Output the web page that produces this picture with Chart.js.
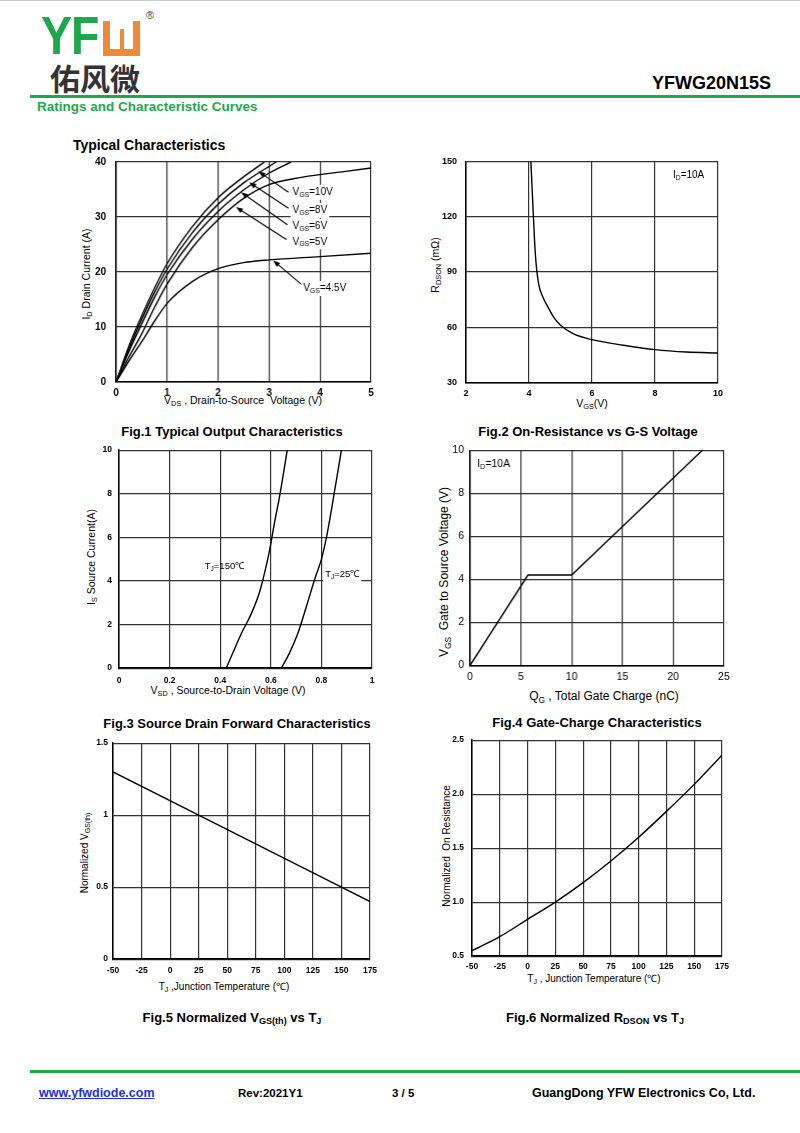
<!DOCTYPE html>
<html>
<head>
<meta charset="utf-8">
<script src="https://cdn.jsdelivr.net/npm/chart.js@4.4.0/dist/chart.umd.min.js"></script>
<style>
  body { margin: 0; background: #fff; font-family: "Liberation Sans", Arial, sans-serif; }
  #page { position: relative; width: 800px; height: 1133px; overflow: hidden; background: #fff; }
  .abs { position: absolute; white-space: nowrap; color: #000; }
  .cap { font-weight: bold; font-size: 13px; transform: translate(-50%, -50%); }
  .xt { font-size: 10.5px; transform: translate(-50%, -50%); }
  .yt { font-size: 10.5px; transform: translate(-50%, -50%) rotate(-90deg); }
  sub { font-size: 70%; vertical-align: -0.3em; line-height: 0; }
  .green { color: #1ea84b; }
</style>
</head>
<body>
<div id="page">
  <div class="abs" style="left:0;top:0;width:800px;height:1px;background:#ccc"></div>

  <!-- logo -->
  <div class="abs green" style="left:41px;top:4px;font-size:54px;font-weight:bold;transform:scaleX(0.86);transform-origin:left top;letter-spacing:-1px">YF</div>
  <div class="abs" style="left:103px;top:21px;width:37px;height:35px;background:#ef8a3a">
    <div class="abs" style="left:7px;top:0;width:23px;height:28px;background:#fff"></div>
    <div class="abs" style="left:16.5px;top:8px;width:4px;height:20px;background:#ef8a3a"></div>
  </div>
  <div class="abs" style="left:146px;top:9px;font-size:11px;color:#444">®</div>
  <div class="abs" style="left:50px;top:55px;font-size:30px;font-weight:bold;color:#333;font-family:'Noto Sans CJK SC',sans-serif">佑风微</div>

  <div class="abs" style="right:29px;top:73px;font-size:18px;font-weight:bold">YFWG20N15S</div>
  <div class="abs" style="left:30px;top:95px;width:770px;height:3px;background:#1ea84b"></div>
  <div class="abs green" style="left:37px;top:99px;font-size:13.5px;font-weight:bold">Ratings and Characteristic Curves</div>
  <div class="abs" style="left:73px;top:137px;font-size:14px;font-weight:bold">Typical Characteristics</div>

  <!-- axis titles -->
  <div class="abs yt" style="left:86px;top:274px">I<sub>D</sub> Drain Current (A)</div>
  <div class="abs xt" style="left:243px;top:400px">V<sub>DS</sub> , Drain-to-Source&nbsp; Voltage (V)</div>
  <div class="abs yt" style="left:435px;top:265px">R<sub>DSON</sub> (mΩ)</div>
  <div class="abs xt" style="left:592px;top:403px">V<sub>GS</sub>(V)</div>
  <div class="abs yt" style="left:91px;top:557px">I<sub>S</sub> Source Current(A)</div>
  <div class="abs xt" style="left:228px;top:690px">V<sub>SD</sub> , Source-to-Drain Voltage (V)</div>
  <div class="abs yt" style="left:444px;top:572px;font-size:12px">V<sub>GS</sub>&nbsp; Gate to Source Voltage (V)</div>
  <div class="abs xt" style="left:604px;top:696px;font-size:12px">Q<sub>G</sub> , Total Gate Charge (nC)</div>
  <div class="abs yt" style="left:84px;top:853px;font-size:10px">Normalized V<sub>GS(th)</sub></div>
  <div class="abs xt" style="left:224px;top:986px;font-size:10px">T<sub>J</sub> ,Junction Temperature (℃)</div>
  <div class="abs yt" style="left:446px;top:846px;font-size:10px">Normalized&nbsp; On Resistance</div>
  <div class="abs xt" style="left:594px;top:978px;font-size:10px">T<sub>J</sub> , Junction Temperature (℃)</div>

  <!-- captions -->
  <div class="abs cap" style="left:232px;top:431px">Fig.1 Typical Output Characteristics</div>
  <div class="abs cap" style="left:588px;top:431px">Fig.2 On-Resistance vs G-S Voltage</div>
  <div class="abs cap" style="left:237px;top:723px">Fig.3 Source Drain Forward Characteristics</div>
  <div class="abs cap" style="left:597px;top:722px">Fig.4 Gate-Charge Characteristics</div>
  <div class="abs cap" style="left:232px;top:1017px">Fig.5 Normalized V<sub>GS(th)</sub> vs T<sub>J</sub></div>
  <div class="abs cap" style="left:595px;top:1017px">Fig.6 Normalized R<sub>DSON</sub> vs T<sub>J</sub></div>

  <!-- footer -->
  <div class="abs" style="left:30px;top:1070px;width:770px;height:3px;background:#1ea84b"></div>
  <div class="abs" style="left:39px;top:1086px;font-size:12.5px;font-weight:bold;color:#1f2fe0;text-decoration:underline">www.yfwdiode.com</div>
  <div class="abs" style="left:238px;top:1087px;font-size:11.5px;font-weight:bold">Rev:2021Y1</div>
  <div class="abs" style="left:392px;top:1087px;font-size:11.5px;font-weight:bold">3 / 5</div>
  <div class="abs" style="left:532px;top:1086px;font-size:12.5px;font-weight:bold">GuangDong YFW Electronics Co, Ltd.</div>
</div>

<script>
const FONT = '"Liberation Sans", Arial, sans-serif';

// Fig.1 output characteristics
const vds10 = [0, 0.25, 0.5, 0.75, 1, 1.5, 2, 2.5, 2.91];
const id10  = [0, 6.5, 12, 17, 21.5, 28.3, 33.5, 37.3, 40];
const vds8  = [0, 0.25, 0.5, 0.75, 1, 1.5, 2, 2.5, 3.14];
const id8   = [0, 6, 11.3, 16.2, 20.5, 27.2, 32.3, 36.2, 40];
const vds6  = [0, 0.25, 0.5, 0.75, 1, 1.5, 2, 2.5, 3, 3.43];
const id6   = [0, 5.5, 10.5, 15.3, 19.5, 26, 31, 34.9, 38, 40];
const vds5  = [0, 0.25, 0.5, 0.75, 1, 1.5, 2, 2.5, 3, 3.5, 4, 4.5, 5];
const id5   = [0, 4.5, 8.7, 13.5, 17.8, 24.5, 29.5, 33.4, 35.9, 37, 37.7, 38.3, 38.9];
const vds45 = [0, 0.25, 0.5, 0.75, 1, 1.5, 2, 2.5, 3, 4, 5];
const id45  = [0, 3.8, 7.3, 11, 14.3, 18.3, 20.6, 21.7, 22.2, 22.8, 23.4];

// Fig.2 on-resistance vs VGS
const vgsR  = [4.06, 4.1, 4.14, 4.2, 4.3, 4.45, 4.6, 4.8, 5, 5.4, 6, 7, 8, 9, 10];
const rdson = [150, 135, 120, 100, 84, 76, 71, 65, 61, 56.5, 53.2, 50.2, 47.8, 46.5, 46];

// Fig.3 source-drain forward
const vsd150 = [0.424, 0.45, 0.484, 0.523, 0.556, 0.576, 0.595, 0.615, 0.635, 0.665];
const is150  = [0, 0.7, 1.6, 2.5, 3.5, 4.4, 5.4, 6.7, 7.9, 10];
const vsd25  = [0.642, 0.674, 0.707, 0.74, 0.774, 0.8, 0.82, 0.846, 0.879];
const is25   = [0, 0.7, 1.6, 2.8, 4.1, 5.0, 6.0, 7.7, 10];

// Fig.4 gate charge
const qg  = [0, 5.7, 10, 22.87];
const vgs = [0, 4.2, 4.2, 10];

// Fig.5 normalized VGS(th)
const tj5   = [-50, 25, 150, 175];
const vth   = [1.3, 1.0, 0.5, 0.4];

// Fig.6 normalized RDSON
const tj6   = [-50, -25, 0, 25, 50, 75, 100, 125, 150, 175];
const rnorm = [0.55, 0.68, 0.84, 1.0, 1.18, 1.38, 1.6, 1.84, 2.09, 2.36];

function pts(xs, ys) { return xs.map((x, i) => ({ x: x, y: ys[i] })); }

function drawRich(ctx, parts, x, y, size, bg) {
  let w = 0;
  parts.forEach(([t, sub]) => {
    ctx.font = (sub ? size * 0.68 : size) + 'px ' + FONT;
    w += ctx.measureText(t).width;
  });
  if (bg) {
    ctx.fillStyle = '#fff';
    ctx.fillRect(x - 2, y - size * 0.75, w + 4, size * 1.5);
  }
  ctx.fillStyle = '#000';
  ctx.textBaseline = 'middle';
  ctx.textAlign = 'left';
  let cx = x;
  parts.forEach(([t, sub]) => {
    ctx.font = (sub ? size * 0.68 : size) + 'px ' + FONT;
    ctx.fillText(t, cx, sub ? y + size * 0.28 : y);
    cx += ctx.measureText(t).width;
  });
}

function arrow(ctx, x1, y1, x2, y2) {
  const a = Math.atan2(y2 - y1, x2 - x1), L = 7, W = 2.6;
  ctx.strokeStyle = '#000';
  ctx.fillStyle = '#000';
  ctx.lineWidth = 1.1;
  ctx.beginPath();
  ctx.moveTo(x1, y1);
  ctx.lineTo(x2 - L * 0.7 * Math.cos(a), y2 - L * 0.7 * Math.sin(a));
  ctx.stroke();
  ctx.beginPath();
  ctx.moveTo(x2, y2);
  ctx.lineTo(x2 - L * Math.cos(a) + W * Math.sin(a), y2 - L * Math.sin(a) - W * Math.cos(a));
  ctx.lineTo(x2 - L * Math.cos(a) - W * Math.sin(a), y2 - L * Math.sin(a) + W * Math.cos(a));
  ctx.closePath();
  ctx.fill();
}

const notesPlugin = {
  id: 'notes',
  afterDatasetsDraw(chart, args, opts) {
    const ctx = chart.ctx, sx = chart.scales.x, sy = chart.scales.y;
    ctx.save();
    (opts.items || []).forEach(it => {
      if (it.arrow) {
        arrow(ctx, sx.getPixelForValue(it.arrow[0]), sy.getPixelForValue(it.arrow[1]),
                   sx.getPixelForValue(it.arrow[2]), sy.getPixelForValue(it.arrow[3]));
      } else {
        drawRich(ctx, it.parts, sx.getPixelForValue(it.x), sy.getPixelForValue(it.y), it.size || 10, it.bg);
      }
    });
    ctx.restore();
  }
};

function axis(isX, min, max, step, o) {
  return {
    type: 'linear', min: min, max: max,
    ticks: {
      stepSize: step, padding: o.pad, color: '#000', autoSkip: false, maxRotation: 0,
      font: { family: FONT, size: o.size, weight: o.bold ? 'bold' : 'normal' },
      callback: o.fmt || (v => v)
    },
    grid: { color: '#333', lineWidth: 1.2, drawTicks: false },
    border: { color: '#000', width: 1.5 },
    afterFit: s => { if (isX) s.height = o.room; else s.width = o.room; }
  };
}

function line(data, tension) {
  return {
    data: data, showLine: true, borderColor: '#000', borderWidth: 1.4, pointRadius: 0,
    fill: false, cubicInterpolationMode: tension ? 'monotone' : 'default', tension: 0
  };
}

// plot = [left, top, right, bottom] of the plotting area in page pixels
function makeChart(plot, xs, ys, datasets, items) {
  const [l, t, r, b] = plot;
  const pl = ys.room, pb = xs.room, pt = 10, pr = 14;
  const box = { left: l - pl, top: t - pt, width: r - l + pl + pr, height: b - t + pt + pb };
  const div = document.createElement('div');
  div.className = 'abs';
  const apply = () => {
    div.style.left = box.left + 'px';
    div.style.top = box.top + 'px';
    div.style.width = box.width + 'px';
    div.style.height = box.height + 'px';
  };
  apply();
  const cv = document.createElement('canvas');
  div.appendChild(cv);
  document.getElementById('page').appendChild(div);
  const chart = new Chart(cv, {
    type: 'scatter',
    data: { datasets: datasets },
    options: {
      responsive: true, maintainAspectRatio: false, animation: false,
      layout: { padding: { left: 0, top: 0, right: 0, bottom: 0 } },
      scales: {
        x: axis(true, xs.min, xs.max, xs.step, xs),
        y: axis(false, ys.min, ys.max, ys.step, ys)
      },
      plugins: { legend: { display: false }, tooltip: { enabled: false }, notes: { items: items } }
    },
    plugins: [notesPlugin]
  });
  // line the plotting area up with the page position
  const ca = chart.chartArea;
  box.left += l - (box.left + ca.left);
  box.top += t - (box.top + ca.top);
  box.width += (r - l) - (ca.right - ca.left);
  box.height += (b - t) - (ca.bottom - ca.top);
  apply();
  chart.resize();
}

const one = v => +v.toFixed(1);

makeChart([116, 162, 370, 382],
  { min: 0, max: 5, step: 1, pad: 5, size: 10, bold: true, room: 24 },
  { min: 0, max: 40, step: 10, pad: 10, size: 10, bold: true, room: 34 },
  [line(pts(vds10, id10), 1), line(pts(vds8, id8), 1), line(pts(vds6, id6), 1),
   line(pts(vds5, id5), 1), line(pts(vds45, id45), 1)],
  [
    { arrow: [3.38, 34.5, 2.79, 38.3] },
    { arrow: [3.38, 31.6, 2.61, 36.3] },
    { arrow: [3.36, 28.6, 2.45, 34.5] },
    { arrow: [3.34, 25.9, 2.35, 31.8] },
    { arrow: [3.64, 17.7, 3.08, 22.1] },
    { x: 3.46, y: 34.5, parts: [['V', 0], ['GS', 1], ['=10V', 0]], bg: true },
    { x: 3.46, y: 31.2, parts: [['V', 0], ['GS', 1], ['=8V', 0]], bg: true },
    { x: 3.46, y: 28.3, parts: [['V', 0], ['GS', 1], ['=6V', 0]], bg: true },
    { x: 3.46, y: 25.5, parts: [['V', 0], ['GS', 1], ['=5V', 0]], bg: true },
    { x: 3.67, y: 17.0, parts: [['V', 0], ['GS', 1], ['=4.5V', 0]], bg: true }
  ]);

makeChart([466, 161, 718, 382],
  { min: 2, max: 10, step: 2, pad: 6, size: 9, bold: true, room: 24 },
  { min: 30, max: 150, step: 30, pad: 9, size: 9, bold: true, room: 34 },
  [line(pts(vgsR, rdson), 1)],
  [{ x: 8.57, y: 142.5, parts: [['I', 0], ['D', 1], ['=10A', 0]], size: 10 }]);

makeChart([119, 450, 372, 668],
  { min: 0, max: 1, step: 0.2, pad: 7, size: 8.5, bold: true, room: 24, fmt: one },
  { min: 0, max: 10, step: 2, pad: 7, size: 8.5, bold: true, room: 30 },
  [line(pts(vsd150, is150), 1), line(pts(vsd25, is25), 1)],
  [
    { x: 0.339, y: 4.66, parts: [['T', 0], ['J', 1], ['=150℃', 0]], size: 9.5 },
    { x: 0.815, y: 4.28, parts: [['T', 0], ['J', 1], ['=25℃', 0]], size: 9.5, bg: true }
  ]);

makeChart([470, 450, 723, 665],
  { min: 0, max: 25, step: 5, pad: 6, size: 10.5, bold: false, room: 24 },
  { min: 0, max: 10, step: 2, pad: 6, size: 10.5, bold: false, room: 30 },
  [line(pts(qg, vgs), 0)],
  [{ x: 0.7, y: 9.35, parts: [['I', 0], ['D', 1], ['=10A', 0]], size: 10.5 }]);

makeChart([113, 743, 370, 959],
  { min: -50, max: 175, step: 25, pad: 6, size: 8.5, bold: true, room: 24 },
  { min: 0, max: 1.5, step: 0.5, pad: 5, size: 8.5, bold: true, room: 30 },
  [line(pts(tj5, vth), 0)],
  []);

makeChart([472, 740, 722, 956],
  { min: -50, max: 175, step: 25, pad: 5, size: 8.5, bold: true, room: 24 },
  { min: 0.5, max: 2.5, step: 0.5, pad: 8, size: 8.5, bold: true, room: 30, fmt: v => v.toFixed(1) },
  [line(pts(tj6, rnorm), 1)],
  []);
</script>
</body>
</html>
